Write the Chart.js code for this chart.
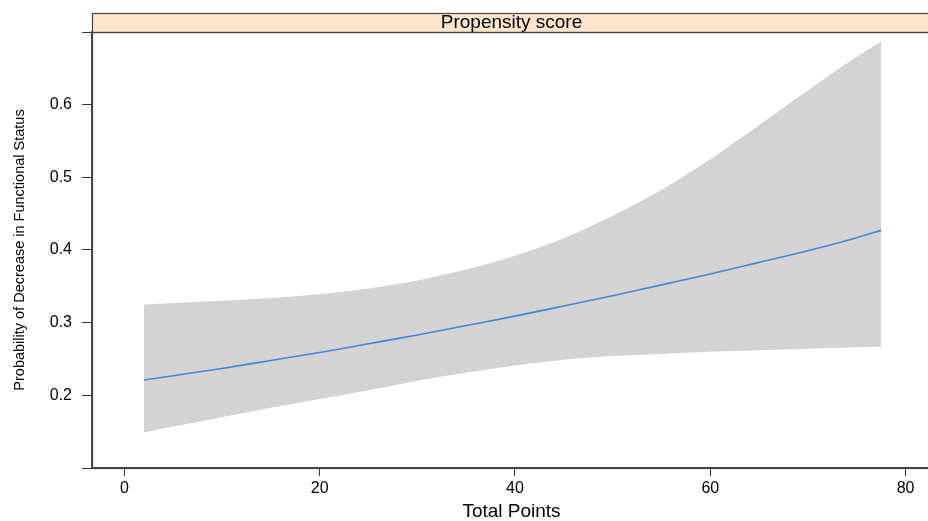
<!DOCTYPE html>
<html>
<head>
<meta charset="utf-8">
<script src="https://cdn.jsdelivr.net/npm/chart.js@4"></script>
<style>
  html, body { margin: 0; padding: 0; background: #fff; overflow: hidden; width: 928px; height: 521px; }
  #c { display: block; }
</style>
</head>
<body>
<canvas id="c" width="934" height="521"></canvas>
<script>
// ---- data ----
const panelTitle = 'Propensity score';
const xTitle = 'Total Points';
const yTitle = 'Probability of Decrease in Functional Status';
const totalPoints = [2, 5, 10, 15, 20, 25, 30, 35, 40, 45, 50, 55, 60, 65, 70, 75, 77.5];
const fitProb    = [0.221, 0.227, 0.237, 0.248, 0.259, 0.271, 0.283, 0.296, 0.309, 0.323, 0.337, 0.352, 0.367, 0.383, 0.399, 0.417, 0.427];
const upperProb  = [0.325, 0.327, 0.330, 0.334, 0.339, 0.347, 0.358, 0.373, 0.392, 0.416, 0.447, 0.483, 0.525, 0.572, 0.620, 0.666, 0.687];
const lowerProb  = [0.149, 0.157, 0.170, 0.183, 0.195, 0.207, 0.220, 0.231, 0.241, 0.249, 0.254, 0.257, 0.260, 0.262, 0.264, 0.266, 0.267];
const xTicks = [0, 20, 40, 60, 80];
const yTicks = [0.1, 0.2, 0.3, 0.4, 0.5, 0.6, 0.7];
const yLabelled = [0.2, 0.3, 0.4, 0.5, 0.6];

const FONT = "'Liberation Sans', Arial, Helvetica, sans-serif";
const toXY = (ys) => totalPoints.map((x, i) => ({ x: x, y: ys[i] }));

const stripPlugin = {
  id: 'strip',
  beforeDraw(chart) {
    const { ctx, chartArea } = chart;
    ctx.save();
    ctx.fillStyle = '#ffe5cc';
    ctx.fillRect(chartArea.left, 13, chartArea.right - chartArea.left, chartArea.top - 13);
    ctx.restore();
  },
  afterDraw(chart) {
    const { ctx, chartArea } = chart;
    ctx.save();
    ctx.strokeStyle = '#444';
    ctx.lineWidth = 1.2;
    ctx.strokeRect(chartArea.left + 0.5, 13.5, chartArea.right - chartArea.left, chartArea.top - 13);
    ctx.strokeRect(chartArea.left + 0.5, chartArea.top + 0.5, chartArea.right - chartArea.left, chartArea.bottom - chartArea.top);
    ctx.restore();
  }
};

new Chart(document.getElementById('c'), {
  type: 'line',
  data: {
    datasets: [
      {
        label: 'fit',
        data: toXY(fitProb),
        borderColor: '#3d87d8',
        borderWidth: 1.6,
        pointRadius: 0,
        fill: false,
        cubicInterpolationMode: 'monotone'
      },
      {
        label: 'upper',
        data: toXY(upperProb),
        borderWidth: 0,
        borderColor: 'rgba(0,0,0,0)',
        backgroundColor: '#d3d3d3',
        pointRadius: 0,
        fill: '+1',
        cubicInterpolationMode: 'monotone'
      },
      {
        label: 'lower',
        data: toXY(lowerProb),
        borderWidth: 0,
        borderColor: 'rgba(0,0,0,0)',
        pointRadius: 0,
        fill: false,
        cubicInterpolationMode: 'monotone'
      }
    ]
  },
  options: {
    responsive: false,
    animation: false,
    devicePixelRatio: 1,
    layout: { padding: { left: 0, right: 3, top: 13, bottom: 0 } },
    plugins: {
      legend: { display: false },
      tooltip: { enabled: false },
      title: {
        display: true,
        text: panelTitle,
        fullSize: false,
        color: '#000',
        font: { family: FONT, size: 19, weight: 'normal', lineHeight: 1 },
        padding: { top: 0, bottom: 0 }
      }
    },
    scales: {
      x: {
        type: 'linear',
        min: -3.31,
        max: 82.6,
        afterBuildTicks(scale) { scale.ticks = xTicks.map(v => ({ value: v })); },
        afterFit(scale) { scale.height = 53; },
        grid: { display: true, drawOnChartArea: false, drawTicks: true, tickLength: 8, color: '#333', lineWidth: 1 },
        border: { display: true, color: '#444', width: 1.2 },
        ticks: {
          color: '#000',
          padding: 3,
          maxRotation: 0,
          autoSkip: false,
          font: { family: FONT, size: 16 },
          callback: (v) => String(v)
        },
        title: {
          display: true,
          text: xTitle,
          color: '#000',
          font: { family: FONT, size: 19, lineHeight: 1 },
          padding: { top: 0, bottom: 0 }
        }
      },
      y: {
        type: 'linear',
        min: 0.1,
        max: 0.7,
        afterBuildTicks(scale) { scale.ticks = yTicks.map(v => ({ value: v })); },
        afterFit(scale) { scale.width = 92; },
        grid: { display: true, drawOnChartArea: false, drawTicks: true, tickLength: 10, color: '#333', lineWidth: 1 },
        border: { display: true, color: '#444', width: 1.2 },
        ticks: {
          color: '#000',
          padding: 10,
          autoSkip: false,
          font: { family: FONT, size: 16 },
          callback: (v) => yLabelled.some(t => Math.abs(t - v) < 1e-6) ? v.toFixed(1) : ''
        },
        title: {
          display: true,
          text: yTitle,
          color: '#000',
          font: { family: FONT, size: 14.5, lineHeight: 1.2 },
          padding: { top: 11, bottom: 0 }
        }
      }
    }
  },
  plugins: [stripPlugin]
});
</script>
</body>
</html>
